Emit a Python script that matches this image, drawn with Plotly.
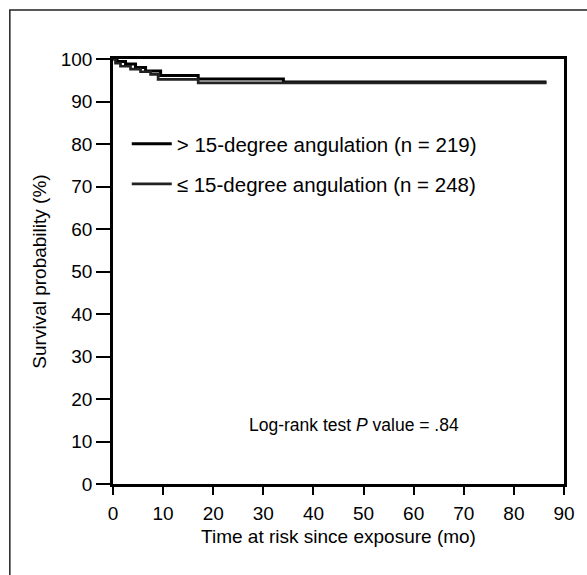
import plotly.graph_objects as go

# Kaplan-Meier step data (months, survival %)
t_gt15 = [0, 0.8, 2.5, 4.5, 6.5, 9.5, 17, 34, 86.5]
s_gt15 = [100, 99.4, 98.8, 98.0, 97.2, 96.1, 95.3, 94.6, 94.6]
t_le15 = [0, 0.5, 1.5, 3.5, 5.5, 7.5, 9, 17, 86.5]
s_le15 = [100, 99.0, 98.3, 97.6, 97.0, 96.4, 95.2, 94.4, 94.4]

name_gt15 = "> 15-degree angulation (n = 219)"
name_le15 = "≤ 15-degree angulation (n = 248)"
x_ticks = [0, 10, 20, 30, 40, 50, 60, 70, 80, 90]
y_ticks = [0, 10, 20, 30, 40, 50, 60, 70, 80, 90, 100]
note_text = "Log-rank test <i>P</i> value = .84"

FONT = "Liberation Sans, Arial, sans-serif"
W, H = 587, 575
L, R, T, B = 113, 15, 59, 91
pw, ph = W - L - R, H - T - B

def px(xp):
    return (xp - L) / pw

def py(yp):
    return (H - B - yp) / ph

fig = go.Figure()
fig.add_trace(go.Scatter(x=t_gt15, y=s_gt15, mode="lines", line=dict(shape="hv", color="black", width=3),
                         name=name_gt15, legend="legend"))
fig.add_trace(go.Scatter(x=t_le15, y=s_le15, mode="lines", line=dict(shape="hv", color="#222222", width=2.7),
                         name=name_le15, legend="legend2"))

leg_common = dict(font=dict(family=FONT, size=20.5, color="black"), bgcolor="rgba(0,0,0,0)",
                  xanchor="left", yanchor="middle", borderwidth=0, itemwidth=40)
fig.update_layout(
    width=W, height=H,
    showlegend=True,
    margin=dict(l=L, r=R, t=T, b=B),
    paper_bgcolor="white", plot_bgcolor="white",
    font=dict(family=FONT, size=19, color="black"),
    legend=dict(x=px(127), y=py(144), **leg_common),
    legend2=dict(x=px(127), y=py(184), **leg_common),
    xaxis=dict(range=[0, 90], tickvals=x_ticks, showgrid=False, zeroline=False,
               showline=True, linecolor="black", linewidth=2.5, mirror=True,
               ticks="outside", ticklen=8, tickwidth=2, tickcolor="black",
               ticklabelstandoff=2,
               title=dict(text="Time at risk since exposure (mo)", standoff=8,
                          font=dict(family=FONT, size=19))),
    yaxis=dict(range=[0, 100], tickvals=y_ticks, showgrid=False, zeroline=False,
               showline=True, linecolor="black", linewidth=2.5, mirror=True,
               ticks="outside", ticklen=14, tickwidth=2, tickcolor="black",
               title=dict(text="Survival probability (%)", standoff=10,
                          font=dict(family=FONT, size=19))),
    shapes=[dict(type="rect", xref="paper", yref="paper",
                 x0=px(8), x1=px(620), y0=py(620), y1=py(10),
                 line=dict(color="#222222", width=1.5), layer="below")],
    annotations=[dict(x=48, y=14, xref="x", yref="y", text=note_text, showarrow=False,
                      font=dict(family=FONT, size=17.5, color="black"))],
)

fig.write_html("out.html", config={"displayModeBar": False},
               post_script="document.body.style.margin='0px';")
